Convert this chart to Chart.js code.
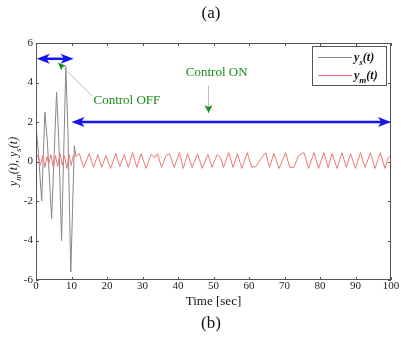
<!DOCTYPE html>
<html>
<head>
<meta charset="utf-8">
<script src="https://cdn.jsdelivr.net/npm/chart.js@4/dist/chart.umd.min.js"></script>
<style>
html,body{margin:0;padding:0;background:#fff;}
canvas{display:block;}
</style>
</head>
<body>
<canvas id="c" width="401" height="338"></canvas>
<script>
// ---- data ----
const xTicks = [0,10,20,30,40,50,60,70,80,90,100];
const yTicks = [-6,-4,-2,0,2,4,6];

// y_s(t): gray trace (uncontrolled growth, then control ON)
const tS = [0, 0.7, 1.6, 2.5, 3.2, 4.4, 5.8, 6.4, 7.2, 8.4, 9.0, 9.8, 10.8, 11.2];
const yS = [1.8, 0.4, -2.0, 2.5, 1.0, -2.9, 3.5, 1.2, -4.0, 4.8, 1.5, -5.6, 0.8, 0.3];

// y_m(t): red trace
const tM = [0,0.6,1.2,1.9,2.5,3.1,3.6,4.2,4.9,5.5,6.1,6.8,7.4,8.0,8.7,9.3,9.9,10.5,11.0,11.6,12.2,13.4,15.0,16.2,17.4,18.5,19.7,21.0,22.5,23.6,24.9,26.0,27.2,28.4,29.6,31.0,32.4,33.5,34.2,35.4,36.6,37.6,38.9,40.4,41.5,42.7,44.0,45.5,46.8,48.4,49.6,51.0,52.0,52.8,54.3,55.5,56.7,58.0,59.5,60.8,62.0,63.2,64.7,65.8,67.0,68.5,70.3,71.5,72.6,74.0,75.5,76.8,78.3,79.6,81.1,82.3,83.4,84.8,86.2,87.4,88.6,90.0,91.4,92.7,94.2,95.5,97.0,98.3,99.2,100];
const yM = [0.1,0.35,-0.2,0.3,-0.3,0.25,-0.1,0.35,-0.3,0.3,-0.25,0.4,-0.2,0.3,-0.35,0.35,-0.2,0.3,0.25,0.3,0.4,-0.3,0.4,-0.3,0.35,-0.3,0.3,-0.35,0.4,-0.25,0.35,-0.3,0.45,-0.3,0.4,-0.35,0.35,0.2,0.4,-0.3,0.3,0.4,-0.3,0.45,-0.35,0.4,-0.3,0.4,-0.35,0.35,-0.3,0.35,0.2,-0.3,0.45,-0.3,0.4,-0.35,0.45,-0.3,-0.25,0.1,0.45,-0.3,0.4,-0.35,0.45,-0.3,-0.3,0.3,0.45,-0.35,0.45,-0.35,0.45,-0.3,0.4,-0.35,0.45,-0.3,0.4,-0.35,0.45,-0.3,0.45,-0.35,0.45,-0.35,0.2,0.3];

// ---- annotation placement (data coords) ----
const ANN = {
  offArrow: {x1:0.2, x2:10.6, y:5.2},
  onArrow: {x1:10, x2:100, y:2.0},
  offLabel: {x:16.2, y:3.1, text:'Control OFF'},
  offPointer: {x1:16.0, y1:3.3, x2:6.2, y2:5.0},
  onLabel: {x:42.2, y:4.5, text:'Control ON'},
  onPointer: {x:48.6, y1:3.85, y2:2.45}
};

const SERIF = '"Liberation Serif", "DejaVu Serif", serif';
const GRAY = 'rgb(135,135,135)';
const RED = 'rgb(238,120,120)';
const BLUE = 'rgb(20,20,235)';
const GREEN = 'rgb(20,140,20)';

function arrowHead(ctx, x, y, ang, len, wid, color){
  ctx.save();
  ctx.fillStyle = color;
  ctx.translate(x,y); ctx.rotate(ang);
  ctx.beginPath();
  ctx.moveTo(0,0);
  ctx.lineTo(-len, -wid/2);
  ctx.lineTo(-len*0.75, 0);
  ctx.lineTo(-len, wid/2);
  ctx.closePath();
  ctx.fill();
  ctx.restore();
}

function subText(ctx, parts, x, y, size, style){
  let cx = x;
  for (const [t, sub] of parts){
    ctx.font = style + ' ' + (sub ? Math.round(size*0.72) : size) + 'px ' + SERIF;
    ctx.fillText(t, cx, sub ? y + size*0.3 : y);
    cx += ctx.measureText(t).width;
  }
  return cx - x;
}
function subWidth(ctx, parts, size, style){
  let w=0;
  for (const [t, sub] of parts){
    ctx.font = style + ' ' + (sub ? Math.round(size*0.72) : size) + 'px ' + SERIF;
    w += ctx.measureText(t).width;
  }
  return w;
}

const decor = {
  id:'decor',
  afterDraw(chart){
    const ctx = chart.ctx;
    const xs = chart.scales.x, ys = chart.scales.y;
    const a = chart.chartArea;
    ctx.save();
    // box
    ctx.strokeStyle = '#555';
    ctx.lineWidth = 1;
    ctx.strokeRect(a.left+0.5, a.top+0.5, a.right-a.left-1, a.bottom-a.top-1);
    // ticks inward on all sides
    ctx.beginPath();
    for (const v of xTicks){
      const px = Math.round(xs.getPixelForValue(v))+0.5;
      ctx.moveTo(px, a.bottom); ctx.lineTo(px, a.bottom-3);
      ctx.moveTo(px, a.top); ctx.lineTo(px, a.top+3);
    }
    for (const v of yTicks){
      const py = Math.round(ys.getPixelForValue(v))+0.5;
      ctx.moveTo(a.left, py); ctx.lineTo(a.left+3, py);
      ctx.moveTo(a.right, py); ctx.lineTo(a.right-3, py);
    }
    ctx.stroke();

    function dbl(o){
      const x1 = xs.getPixelForValue(o.x1), x2 = xs.getPixelForValue(o.x2), y = ys.getPixelForValue(o.y);
      ctx.strokeStyle = BLUE; ctx.lineWidth = 2.5;
      ctx.beginPath(); ctx.moveTo(x1+8,y); ctx.lineTo(x2-8,y); ctx.stroke();
      arrowHead(ctx, x1, y, Math.PI, 13, 10, BLUE);
      arrowHead(ctx, x2, y, 0, 13, 10, BLUE);
    }
    dbl(ANN.offArrow);
    dbl(ANN.onArrow);

    const p = ANN.offPointer;
    const px1 = xs.getPixelForValue(p.x1), py1 = ys.getPixelForValue(p.y1);
    const px2 = xs.getPixelForValue(p.x2), py2 = ys.getPixelForValue(p.y2);
    ctx.strokeStyle = 'rgb(190,190,190)'; ctx.lineWidth = 1;
    ctx.beginPath(); ctx.moveTo(px1,py1); ctx.lineTo(px2,py2); ctx.stroke();
    arrowHead(ctx, px2, py2, Math.atan2(py2-py1, px2-px1), 8, 7, GREEN);

    const q = ANN.onPointer;
    const qx = xs.getPixelForValue(q.x), qy1 = ys.getPixelForValue(q.y1), qy2 = ys.getPixelForValue(q.y2);
    ctx.beginPath(); ctx.moveTo(qx,qy1); ctx.lineTo(qx,qy2); ctx.stroke();
    arrowHead(ctx, qx, qy2, Math.PI/2, 8, 8, GREEN);

    ctx.fillStyle = GREEN;
    ctx.font = '13px ' + SERIF;
    ctx.textBaseline = 'middle';
    ctx.textAlign = 'left';
    ctx.fillText(ANN.offLabel.text, xs.getPixelForValue(ANN.offLabel.x), ys.getPixelForValue(ANN.offLabel.y));
    ctx.fillText(ANN.onLabel.text, xs.getPixelForValue(ANN.onLabel.x), ys.getPixelForValue(ANN.onLabel.y));

    // legend box
    ctx.fillStyle = '#fff';
    ctx.fillRect(312.5, 46.5, 74, 39);
    ctx.strokeStyle = '#555'; ctx.lineWidth = 1;
    ctx.strokeRect(312.5, 46.5, 74, 39);
    ctx.strokeStyle = GRAY;
    ctx.beginPath(); ctx.moveTo(318,57.5); ctx.lineTo(352,57.5); ctx.stroke();
    ctx.strokeStyle = RED;
    ctx.beginPath(); ctx.moveTo(318,75.5); ctx.lineTo(352,75.5); ctx.stroke();
    ctx.fillStyle = '#111';
    ctx.textBaseline = 'alphabetic';
    subText(ctx, [['y',false],['s',true],['(t)',false]], 354, 61, 12, 'italic bold');
    subText(ctx, [['y',false],['m',true],['(t)',false]], 354, 79, 12, 'italic bold');

    ctx.fillStyle = '#111';
    ctx.textAlign = 'center';
    ctx.textBaseline = 'middle';
    ctx.font = '13px ' + SERIF;
    ctx.fillText('Time [sec]', (a.left+a.right)/2, 302);
    ctx.font = '17px ' + SERIF;
    ctx.fillText('(a)', 211, 14);
    ctx.fillText('(b)', 211, 324);

    ctx.save();
    ctx.translate(13, (a.top+a.bottom)/2);
    ctx.rotate(-Math.PI/2);
    ctx.textAlign = 'left';
    ctx.textBaseline = 'alphabetic';
    const parts = [['y',false],['m',true],['(t), y',false],['s',true],['(t)',false]];
    const w = subWidth(ctx, parts, 12, 'italic');
    subText(ctx, parts, -w/2, 4, 12, 'italic');
    ctx.restore();

    ctx.restore();
  }
};

const dataS = tS.map((t,i)=>({x:t, y:yS[i]}));
const dataM = tM.map((t,i)=>({x:t, y:yM[i]}));

new Chart(document.getElementById('c'), {
  type:'line',
  data:{
    datasets:[
      {label:'y_s(t)', data:dataS, borderColor:GRAY, borderWidth:1, pointRadius:0, tension:0, order:2},
      {label:'y_m(t)', data:dataM, borderColor:RED, borderWidth:1, pointRadius:0, tension:0, order:1}
    ]
  },
  options:{
    responsive:false,
    animation:false,
    devicePixelRatio:1,
    layout:{padding:{top:43, right:10, left:0, bottom:0}},
    plugins:{legend:{display:false}, tooltip:{enabled:false}},
    scales:{
      x:{
        type:'linear', min:0, max:100,
        grid:{display:false, drawTicks:false, tickLength:0}, border:{display:false},
        afterBuildTicks(s){ s.ticks = xTicks.map(v=>({value:v})); },
        afterFit(s){ s.height = 58; },
        ticks:{font:{family:SERIF, size:11}, color:'#222', padding:0, maxRotation:0, autoSkip:false}
      },
      y:{
        type:'linear', min:-6, max:6,
        grid:{display:false, drawTicks:false, tickLength:0}, border:{display:false},
        afterBuildTicks(s){ s.ticks = yTicks.map(v=>({value:v})); },
        afterFit(s){ s.width = 36; },
        ticks:{font:{family:SERIF, size:11}, color:'#222', padding:3, autoSkip:false}
      }
    }
  },
  plugins:[decor]
});
</script>
</body>
</html>
